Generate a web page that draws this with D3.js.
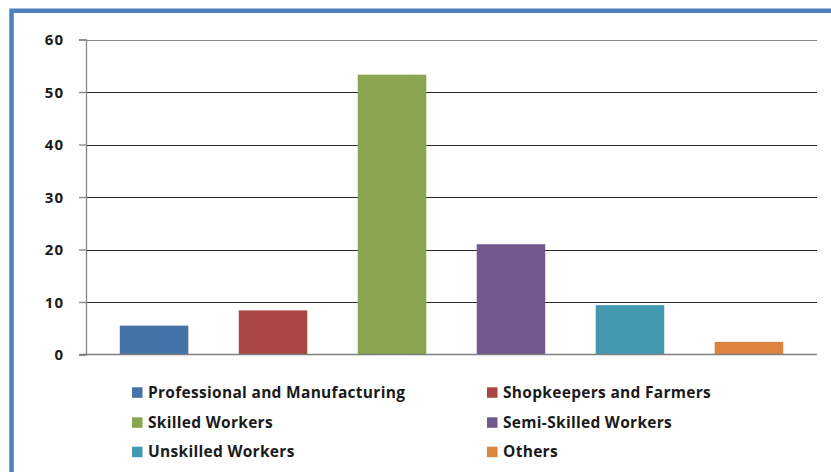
<!DOCTYPE html>
<html>
<head>
<meta charset="utf-8">
<script src="https://cdn.jsdelivr.net/npm/d3@7"></script>
<style>
  html, body { margin: 0; padding: 0; background: #fff; }
  svg { display: block; }
  text { font-family: "Open Sans", "DejaVu Sans", sans-serif; fill: #1a1a1a; }
</style>
</head>
<body>
<svg id="chart" width="831" height="472"></svg>
<script>
// Occupation groups and their shares (percent)
const categories = [
  "Professional and Manufacturing",
  "Shopkeepers and Farmers",
  "Skilled Workers",
  "Semi-Skilled Workers",
  "Unskilled Workers",
  "Others"
];
const values = [5.5, 8.4, 53.3, 21, 9.4, 2.4];
const colors = ["#4572a7", "#aa4643", "#89a54e", "#71588f", "#4198af", "#db843d"];
const yTicks = [0, 10, 20, 30, 40, 50, 60];

const svg = d3.select("#chart");

// Frame: blue border on the top and left edges
svg.append("path")
  .attr("d", "M11.5,472 L11.5,10.7 L831,10.7")
  .attr("fill", "none")
  .attr("stroke", "#4f81bd")
  .attr("stroke-width", 4.5);

const plot = { left: 86, right: 817, top: 39.5, bottom: 354.5 };

const x = d3.scaleBand()
  .domain(categories)
  .range([plot.left, plot.right])
  .paddingInner(0.424)
  .paddingOuter(0.284);

const y = d3.scaleLinear()
  .domain([0, 60])
  .range([plot.bottom, plot.top]);

// Horizontal gridlines
svg.append("g")
  .selectAll("line")
  .data(yTicks.filter(d => d > 0))
  .join("line")
  .attr("x1", plot.left)
  .attr("x2", plot.right)
  .attr("y1", d => Math.round(y(d)) + 0.5)
  .attr("y2", d => Math.round(y(d)) + 0.5)
  .attr("stroke", d => d === 60 ? "#868686" : "#2a2a2a")
  .attr("stroke-width", 1.2);

// Bars
svg.append("g")
  .selectAll("rect")
  .data(categories)
  .join("rect")
  .attr("x", d => x(d))
  .attr("width", x.bandwidth())
  .attr("y", (d, i) => y(values[i]))
  .attr("height", (d, i) => y(0) - y(values[i]))
  .attr("fill", (d, i) => colors[i]);

// Y axis
const yAxis = svg.append("g")
  .attr("transform", `translate(${plot.left},0)`)
  .call(d3.axisLeft(y).tickValues(yTicks).tickSize(7).tickFormat(d3.format("d")));
yAxis.select(".domain").attr("stroke", "#868686").attr("stroke-width", 1.3);
yAxis.selectAll(".tick line").attr("stroke", "#868686").attr("stroke-width", 1.3);
yAxis.selectAll(".tick text")
  .attr("font-family", "'Open Sans', sans-serif")
  .attr("font-size", 15)
  .attr("font-weight", 700)
  .attr("letter-spacing", 1)
  .attr("fill", "#1a1a1a")
  .attr("dy", "0.36em")
  .attr("x", -22);

// Baseline
svg.append("line")
  .attr("x1", plot.left - 7)
  .attr("x2", plot.right)
  .attr("y1", y(0))
  .attr("y2", y(0))
  .attr("stroke", "#7f7f7f")
  .attr("stroke-width", 1.6);

// Legend: two columns, three rows
const legendCols = [132, 487];
const legendRows = [392.3, 422.3, 451.7];
const legend = svg.append("g")
  .selectAll("g")
  .data(categories)
  .join("g")
  .attr("transform", (d, i) => `translate(${legendCols[i % 2]},${legendRows[Math.floor(i / 2)]})`);
legend.append("rect")
  .attr("x", 0)
  .attr("y", -5)
  .attr("width", 10.5)
  .attr("height", 10.5)
  .attr("fill", (d, i) => colors[i]);
legend.append("text")
  .attr("x", 16)
  .attr("y", 0)
  .attr("dy", "0.36em")
  .attr("font-size", 15.5)
  .attr("font-weight", 700)
  .attr("letter-spacing", 0.3)
  .text(d => d);
</script>
</body>
</html>
